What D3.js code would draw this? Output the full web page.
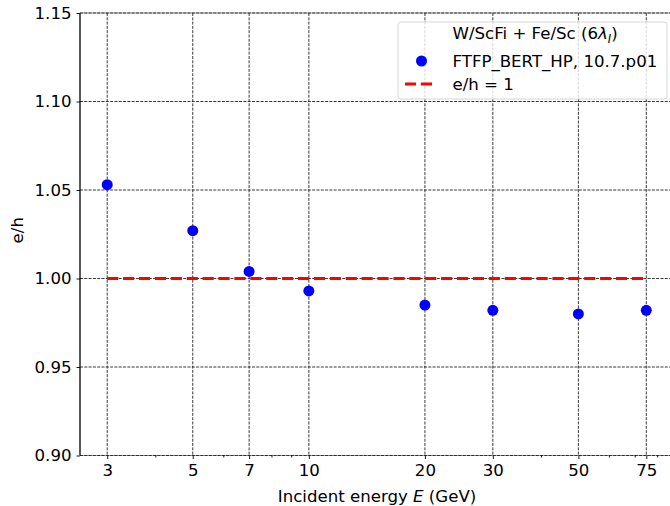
<!DOCTYPE html>
<html>
<head>
<meta charset="utf-8">
<script src="https://cdn.jsdelivr.net/npm/d3@7"></script>
<style>
  body { margin: 0; background: #fff; }
  text { font-family: "DejaVu Sans", sans-serif; fill: #000; }
</style>
</head>
<body>
<script>
const width = 670;
const height = 506;
const margin = { top: 13, right: -4, bottom: 50.5, left: 80 };

const chartWidth = width - margin.left - margin.right;
const chartHeight = height - margin.top - margin.bottom;
const fontSize = "16.6px";

// data
const energies = [3, 5, 7, 10, 20, 30, 50, 75];
const ehValues = [1.053, 1.027, 1.004, 0.993, 0.985, 0.982, 0.980, 0.982];
const xTickValues = [3, 5, 7, 10, 20, 30, 50, 75];
const xMinorTicks = [4, 6, 8, 9, 40, 60, 70, 80];
const yTickValues = [0.90, 0.95, 1.00, 1.05, 1.10, 1.15];
const refLine = { from: 3, to: 75, value: 1.0 };

const svg = d3.select("body")
  .append("svg")
  .attr("width", width)
  .attr("height", height);

const g = svg.append("g")
  .attr("transform", `translate(${margin.left}, ${margin.top})`);

const x = d3.scaleLog().domain([2.55, 88.5]).range([0, chartWidth]);
const y = d3.scaleLinear().domain([0.90, 1.15]).range([chartHeight, 0]);

// grid
g.append("line")
  .attr("x1", 0).attr("x2", chartWidth)
  .attr("y1", chartHeight).attr("y2", chartHeight)
  .attr("stroke", "#999").attr("stroke-width", 1);
g.append("line")
  .attr("x1", 0).attr("x2", chartWidth)
  .attr("y1", 0).attr("y2", 0)
  .attr("stroke", "#999").attr("stroke-width", 1);

g.append("g").selectAll("line")
  .data(yTickValues)
  .join("line")
  .attr("x1", 0).attr("x2", chartWidth)
  .attr("y1", d => y(d)).attr("y2", d => y(d))
  .attr("stroke", "#222").attr("stroke-width", 0.9)
  .attr("stroke-dasharray", "3,1.3");

g.append("g").selectAll("line")
  .data(xTickValues)
  .join("line")
  .attr("x1", d => x(d)).attr("x2", d => x(d))
  .attr("y1", 0).attr("y2", chartHeight)
  .attr("stroke", "#222").attr("stroke-width", 0.9)
  .attr("stroke-dasharray", "3,1.3");

// axes
const xAxisGroup = g.append("g")
  .attr("transform", `translate(0, ${chartHeight})`)
  .call(d3.axisBottom(x).tickValues(xTickValues).tickFormat(d3.format("d")).tickSize(3.5).tickPadding(5));
xAxisGroup.select(".domain").remove();

g.append("g")
  .attr("transform", `translate(0, ${chartHeight})`)
  .call(d3.axisBottom(x).tickValues(xMinorTicks).tickFormat("").tickSize(2))
  .select(".domain").remove();

const yAxisGroup = g.append("g")
  .call(d3.axisLeft(y).tickValues(yTickValues).tickFormat(d3.format(".2f")).tickSize(3.5).tickPadding(5));
yAxisGroup.select(".domain").remove();

svg.selectAll(".tick text").style("font-size", fontSize).attr("fill", "#000");
svg.selectAll(".tick line").attr("stroke", "#000").attr("stroke-width", 0.9);

g.append("line")
  .attr("x1", 0).attr("x2", 0)
  .attr("y1", 0).attr("y2", chartHeight)
  .attr("stroke", "#000").attr("stroke-width", 1.3);

// labels
g.append("text")
  .attr("x", chartWidth / 2)
  .attr("y", chartHeight + 46)
  .attr("text-anchor", "middle")
  .style("font-size", fontSize)
  .html('Incident energy <tspan font-style="italic">E</tspan> (GeV)');

g.append("text")
  .attr("transform", `translate(-57, ${chartHeight / 2 - 4}) rotate(-90)`)
  .attr("text-anchor", "middle")
  .style("font-size", fontSize)
  .text("e/h");

// reference line
g.append("line")
  .attr("x1", x(refLine.from)).attr("x2", x(refLine.to))
  .attr("y1", y(refLine.value)).attr("y2", y(refLine.value))
  .attr("stroke", "#ff0000").attr("stroke-width", 3)
  .attr("stroke-dasharray", "11.1,4.8");

// points
g.selectAll("circle.pt")
  .data(energies)
  .join("circle")
  .attr("class", "pt")
  .attr("cx", d => x(d))
  .attr("cy", (d, i) => y(ehValues[i]))
  .attr("r", 5.5)
  .attr("fill", "#0000ff");

// legend
const legend = svg.append("g").attr("transform", "translate(398, 22)");
legend.append("rect")
  .attr("width", 269).attr("height", 77)
  .attr("rx", 3).attr("ry", 3)
  .attr("fill", "rgba(255,255,255,0.8)")
  .attr("stroke", "#d6d6d6").attr("stroke-width", 1);

legend.append("text")
  .attr("x", 54.5).attr("y", 17)
  .style("font-size", fontSize)
  .html('W/ScFi + Fe/Sc (6<tspan font-style="italic">λ</tspan><tspan font-style="italic" font-size="11.5px" dy="4">I</tspan><tspan dy="-4">)</tspan>');

legend.append("circle")
  .attr("cx", 23.5).attr("cy", 39)
  .attr("r", 5.5).attr("fill", "#0000ff");
legend.append("text")
  .attr("x", 54.5).attr("y", 45)
  .style("font-size", fontSize)
  .text("FTFP_BERT_HP, 10.7.p01");

legend.append("line")
  .attr("x1", 7).attr("x2", 37)
  .attr("y1", 62).attr("y2", 62)
  .attr("stroke", "#ff0000").attr("stroke-width", 3)
  .attr("stroke-dasharray", "11.1,4.8");
legend.append("text")
  .attr("x", 54.5).attr("y", 68)
  .style("font-size", fontSize)
  .text("e/h = 1");
</script>
</body>
</html>
